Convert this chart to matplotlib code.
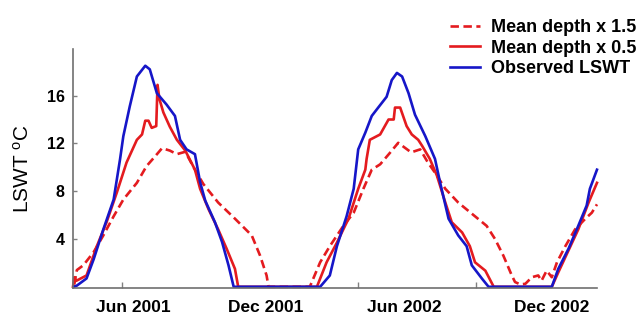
import numpy as np
import matplotlib
matplotlib.use("Agg")
import matplotlib.pyplot as plt

plt.rcParams['font.family'] = ['Liberation Sans', 'DejaVu Sans']
plt.rcParams['mathtext.default'] = 'regular'

# days counted from 2001-01-01, temperatures in deg C
obs_day = [76, 81, 96, 107, 122, 138, 148, 153, 163, 174, 187, 194, 205, 220, 233,
           241, 251, 264, 272, 280, 295, 306, 316, 324, 458, 473, 484, 499, 510,
           517, 528, 538, 548, 561, 569, 577, 585, 595, 605, 621, 636, 644, 657,
           672, 685, 693, 709, 719, 817, 827, 843, 858, 871, 876, 887]
obs_temp = [0.0, 0.1, 0.7, 2.3, 4.8, 7.3, 10.7, 12.6, 15.1, 17.6, 18.5, 18.2, 16.2,
            15.25, 14.3, 12.3, 11.5, 11.1, 8.75, 7.2, 5.4, 3.75, 1.8, 0.0, 0.0, 0.95,
            3.4, 5.9, 8.2, 11.5, 12.9, 14.3, 15.0, 15.9, 17.3, 17.9, 17.6, 16.2, 14.4,
            12.6, 10.7, 8.7, 5.7, 4.3, 3.4, 1.8, 0.67, 0.0, 0.0, 1.5, 3.2, 5.1, 6.8,
            8.2, 9.8]

half_day = [75, 77, 80, 96, 112, 127, 143, 158, 174, 182, 187, 192, 197, 204, 206,
            209, 215, 225, 236, 249, 264, 272, 285, 300, 313, 326, 331, 453, 468,
            484, 502, 517, 528, 530, 535, 551, 564, 572, 574, 582, 592, 600, 610,
            616, 628, 639, 652, 662, 678, 690, 698, 714, 727, 817, 827, 858, 874, 887]
half_temp = [0.0, 0.8, 0.5, 0.95, 3.4, 5.4, 7.9, 10.4, 12.3, 12.75, 13.9, 13.9, 13.3,
             13.45, 16.9, 15.7, 14.6, 13.4, 12.3, 11.4, 9.8, 8.2, 6.5, 4.8, 3.2, 1.5,
             0.0, 0.0, 2.05, 3.7, 5.7, 8.2, 9.8, 10.7, 12.3, 12.75, 14.0, 14.0, 15.0,
             15.0, 13.45, 12.75, 12.3, 11.8, 10.7, 9.3, 7.05, 5.4, 4.55, 3.4, 2.05,
             1.35, 0.0, 0.0, 1.2, 4.8, 7.05, 8.7]

deep_day = [77, 81, 91, 107, 122, 138, 153, 174, 189, 202, 213, 225, 236, 249, 264,
            277, 300, 326, 352, 365, 375, 378, 442, 458, 473, 494, 510, 525, 538,
            551, 566, 579, 599, 613, 625, 636, 652, 672, 698, 716, 729, 742, 755,
            760, 768, 776, 786, 796, 801, 809, 817, 825, 838, 853, 869, 879, 887]
deep_temp = [0.2, 1.4, 1.8, 2.9, 4.3, 5.9, 7.3, 8.7, 10.1, 10.9, 11.6, 11.4, 11.1,
             11.3, 9.8, 8.6, 7.05, 5.7, 4.3, 2.6, 0.95, 0.0, 0.0, 2.05, 3.4, 5.1, 6.2,
             8.2, 9.8, 10.25, 11.2, 12.05, 11.25, 11.5, 10.4, 9.55, 8.2, 7.05, 5.9,
             5.1, 4.0, 2.6, 0.95, 0.4, 0.2, 0.25, 0.8, 0.95, 0.5, 1.35, 0.8, 2.05,
             3.4, 4.8, 5.7, 6.2, 6.9]

tick_days = [151, 516, 699]          # Jun 2001, Jun 2002, Dec 2002
label_days = [168, 374, 588, 817]
label_text = ['Jun 2001', 'Dec 2001', 'Jun 2002', 'Dec 2002']

red = '#e41b1f'
blue = '#1616c8'

fig = plt.figure(figsize=(6.38, 3.17), dpi=100)
ax = fig.add_axes([0.1144, 0.0915, 0.8213, 0.7539])

ax.plot(deep_day, deep_temp, color=red, lw=1.9, ls=(0, (3.2, 1.7)),
        label='Mean depth x 1.5', clip_on=False)
ax.plot(half_day, half_temp, color=red, lw=1.9, label='Mean depth x 0.5',
        clip_on=False)
ax.plot(obs_day, obs_temp, color=blue, lw=1.9, label='Observed LSWT',
        clip_on=False)

ax.set_xlim(75, 887)
ax.set_ylim(-0.1, 19.9)

ax.set_xticks(tick_days)
ax.set_xticklabels([])
ax.set_xticks(label_days, minor=True)
ax.set_xticklabels(label_text, minor=True, fontsize=12.5, fontweight='bold')
ax.tick_params(axis='x', which='major', direction='in', length=4, width=1,
               color='#808080')
ax.tick_params(axis='x', which='minor', length=0, pad=9)

ax.set_yticks([4, 8, 12, 16])
ax.set_yticklabels(['4', '8', '12', '16'], fontsize=11.5, fontweight='bold')
ax.tick_params(axis='y', direction='in', length=3, width=1, color='#808080',
               pad=6)

ax.set_ylabel(r'LSWT $^{o}$C', fontsize=15, labelpad=10)

for s in ['top', 'right']:
    ax.spines[s].set_visible(False)
for s in ['left', 'bottom']:
    ax.spines[s].set_color('#707070')
    ax.spines[s].set_linewidth(1.2)

fig.legend(loc='upper right', bbox_to_anchor=(0.997, 0.94), frameon=False,
           prop={'size': 13, 'weight': 'bold'}, handlelength=1.65,
           handletextpad=0.6, labelspacing=0.2, borderpad=0, borderaxespad=0)

fig.savefig('out.png', dpi=100)
